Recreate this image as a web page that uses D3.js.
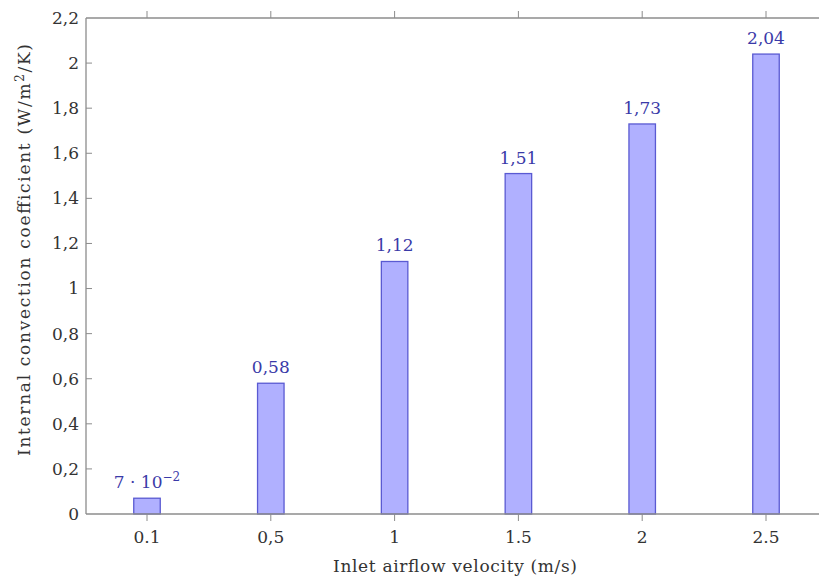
<!DOCTYPE html>
<html><head><meta charset="utf-8">
<script src="https://cdn.jsdelivr.net/npm/d3@7"></script>
<style>body{margin:0;background:#fff;overflow:hidden}</style>
</head><body>
<script>
const categories = ["0.1","0,5","1","1.5","2","2.5"];
const values = [0.07, 0.58, 1.12, 1.51, 1.73, 2.04];
const valueLabels = ["7 · 10", "0,58", "1,12", "1,51", "1,73", "2,04"];
const yTicks = [0,0.2,0.4,0.6,0.8,1,1.2,1.4,1.6,1.8,2,2.2];
const yTickLabels = ["0","0,2","0,4","0,6","0,8","1","1,2","1,4","1,6","1,8","2","2,2"];

const W=819,H=583;
const L=86,T=18,B=514;
const font="'DejaVu Serif', 'Liberation Serif', serif";
const svg=d3.select("body").append("svg").attr("width",W).attr("height",H);
const x=d3.scalePoint().domain(categories).range([147,766]);
const y=d3.scaleLinear().domain([0,2.2]).range([B,T]);
const bw=26.5;
const axisCol="#8c8c8c";
const fs=17;

// bars
svg.selectAll("rect.bar").data(values).enter().append("rect")
 .attr("x",(d,i)=>x(categories[i])-bw/2)
 .attr("y",d=>y(d)).attr("width",bw).attr("height",d=>y(0)-y(d))
 .attr("fill","#b0b0ff").attr("stroke","#5a5ad2").attr("stroke-width",1.3);

// axes lines
svg.append("line").attr("x1",L).attr("x2",W).attr("y1",B).attr("y2",B).attr("stroke",axisCol).attr("stroke-width",1.3);
svg.append("line").attr("x1",L).attr("x2",W).attr("y1",T).attr("y2",T).attr("stroke",axisCol).attr("stroke-width",1.3);
svg.append("line").attr("x1",L).attr("x2",L).attr("y1",T).attr("y2",B).attr("stroke",axisCol).attr("stroke-width",1.3);

// y ticks
yTicks.forEach((t,i)=>{
  if(i>0 && i<yTicks.length-1) svg.append("line").attr("x1",L).attr("x2",L+6).attr("y1",y(t)).attr("y2",y(t)).attr("stroke",axisCol).attr("stroke-width",1);
  svg.append("text").attr("x",L-7).attr("y",y(t)).attr("dy","0.35em").attr("text-anchor","end")
   .attr("font-family",font).attr("font-size",fs).attr("fill","#333").text(yTickLabels[i]);
});
// x ticks
categories.forEach((c,i)=>{
  const cx=x(c);
  svg.append("line").attr("x1",cx).attr("x2",cx).attr("y1",B).attr("y2",B+7).attr("stroke",axisCol).attr("stroke-width",1);
  svg.append("line").attr("x1",cx).attr("x2",cx).attr("y1",T).attr("y2",T-7).attr("stroke",axisCol).attr("stroke-width",1);
  svg.append("text").attr("x",cx).attr("y",537).attr("dy","0.35em").attr("text-anchor","middle")
   .attr("font-family",font).attr("font-size",fs).attr("fill","#333").text(c);
  const lab=svg.append("text").attr("x",cx).attr("y",y(values[i])-10).attr("text-anchor","middle")
   .attr("font-family",font).attr("font-size",fs).attr("fill","#3a3aa8");
  lab.append("tspan").text(valueLabels[i]);
  if(i===0){ lab.append("tspan").attr("dy",-7).attr("font-size",12).text("−2"); }
});

// axis titles
svg.append("text").attr("x",455).attr("y",572).attr("text-anchor","middle")
 .attr("font-family",font).attr("font-size",fs).attr("fill","#333")
 .attr("textLength",244).attr("lengthAdjust","spacing").text("Inlet airflow velocity (m/s)");
const yl=svg.append("text").attr("transform","translate(30,250) rotate(-90)").attr("text-anchor","middle")
 .attr("font-family",font).attr("font-size",fs).attr("fill","#333")
 .attr("textLength",412).attr("lengthAdjust","spacing");
yl.append("tspan").text("Internal convection coefficient (W/m");
yl.append("tspan").attr("dy",-6).attr("font-size",12).text("2");
yl.append("tspan").attr("dy",6).text("/K)");
</script>
</body></html>
